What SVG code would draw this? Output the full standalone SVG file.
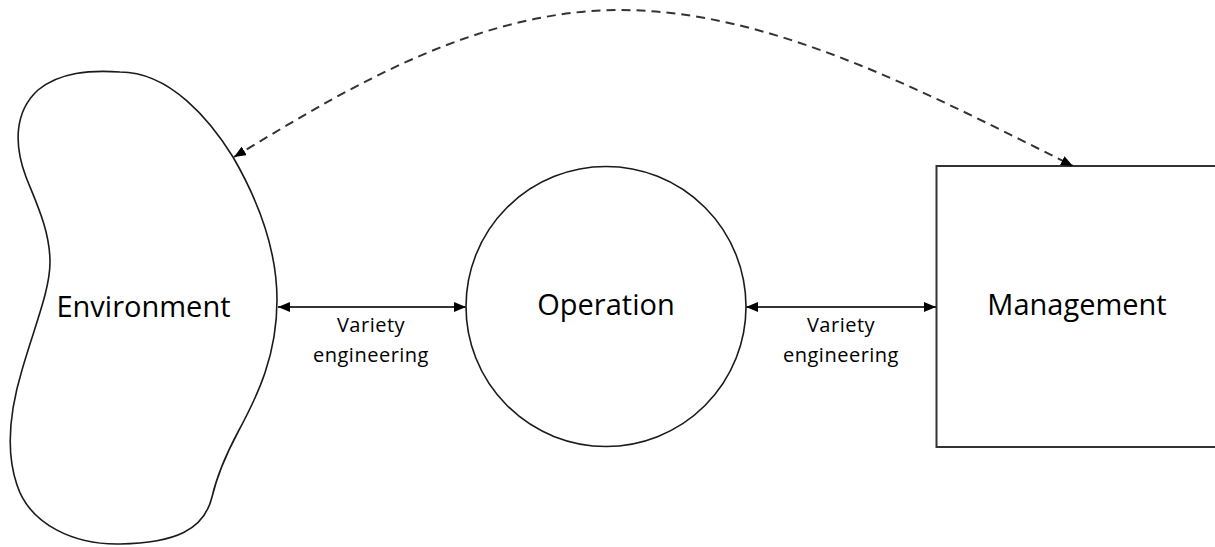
<svg xmlns="http://www.w3.org/2000/svg" width="1215" height="547" viewBox="0 0 1215 547">
  <style>
    .shape { fill: #ffffff; stroke: #1a1a1a; stroke-width: 1.6; }
    .box { fill: #ffffff; stroke: #333333; stroke-width: 2; }
    .big { font-family: "Open Sans", "Liberation Sans", sans-serif; font-size: 29px; fill: #000000; text-anchor: middle; }
    .small { font-family: "Open Sans", "Liberation Sans", sans-serif; font-size: 20px; fill: #000000; text-anchor: middle; letter-spacing: 0.5px; }
    .conn { fill: none; stroke: #333333; stroke-width: 2; }
    .dash { fill: none; stroke: #333333; stroke-width: 2; stroke-dasharray: 9 6; }
  </style>
  <defs>
    <marker id="arrow" viewBox="0 0 12 10" refX="12" refY="5" markerWidth="12" markerHeight="10" markerUnits="userSpaceOnUse" orient="auto-start-reverse">
      <path d="M0,0 L12,5 L0,10 Z" fill="#000000" stroke="none"/>
    </marker>
  </defs>
  <rect width="1215" height="547" fill="#ffffff"/>

  <g id="environment">
    <path class="shape" d="M120,72 C170,72 210,120 233,157 C255,195 277,245 277,300 C277,355 258,395 238,432 C222,462 216,480 212,497 C204,530 175,543 120,544 C75,545 30,525 17,485 C5,450 10,410 22,370 C35,325 50,290 50,262 C50,230 35,200 26,177 C14,145 14,112 38,90 C60,72 90,70 120,72 Z"/>
    <text class="big" x="143.5" y="317">Environment</text>
  </g>

  <g id="operation">
    <circle class="shape" cx="606" cy="306.5" r="140"/>
    <text class="big" x="606" y="315">Operation</text>
  </g>

  <g id="management">
    <rect class="box" x="936.5" y="166" width="290" height="281"/>
    <text class="big" x="1077" y="315">Management</text>
  </g>

  <g id="connectors">
    <line class="conn" x1="278" y1="307" x2="466" y2="307" marker-start="url(#arrow)" marker-end="url(#arrow)"/>
    <line class="conn" x1="746" y1="307" x2="936" y2="307" marker-start="url(#arrow)" marker-end="url(#arrow)"/>
    <path class="dash" d="M234,157 C334,97 470,10 620,10 C770,10 923,91 1073,166" marker-start="url(#arrow)" marker-end="url(#arrow)"/>
    <text class="small" x="371" y="332">Variety</text>
    <text class="small" x="371" y="362">engineering</text>
    <text class="small" x="841" y="332">Variety</text>
    <text class="small" x="841" y="362">engineering</text>
  </g>
</svg>
